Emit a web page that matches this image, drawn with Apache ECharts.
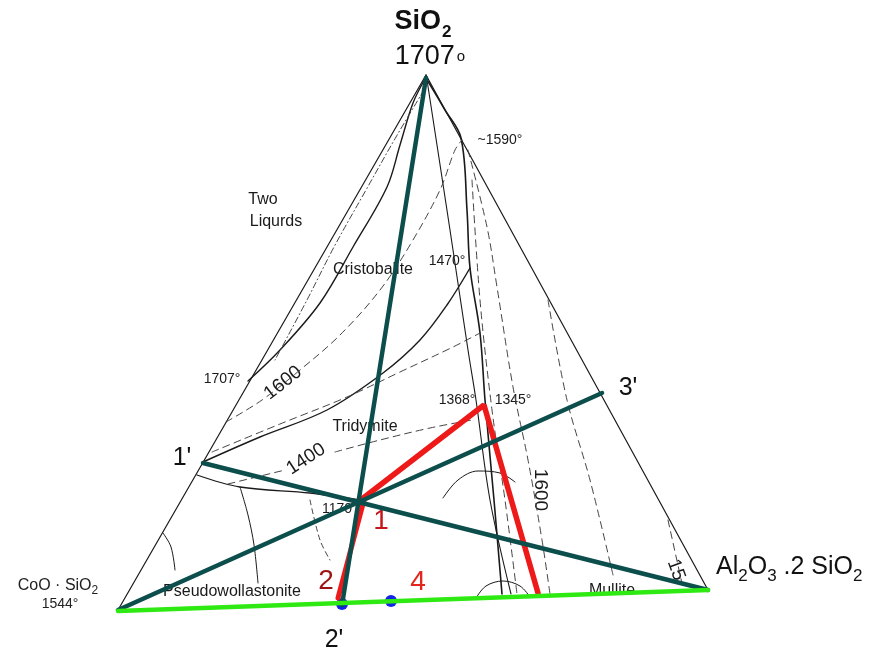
<!DOCTYPE html>
<html>
<head>
<meta charset="utf-8">
<script src="https://cdn.jsdelivr.net/npm/echarts@6/dist/echarts.min.js"></script>
<style>
  html, body { margin: 0; padding: 0; background: #fff; }
  #chart { width: 880px; height: 655px; }
</style>
</head>
<body>
<div id="chart"></div>
<script>
// diagram coordinates (x to the right, y downward)
const edgeLeft = [[426, 75], [118, 610]];
const edgeRight = [[426, 75], [708, 590]];
const baseLine = [[118, 611], [708, 590]];

// solid boundary curves
const curveApex = [[425, 79], [413, 103], [400, 145], [387, 187], [353, 247], [320, 303], [280, 350], [248, 381]];
const curveOnePrime = [[203, 462], [260, 437], [327, 410], [383, 373], [420, 340], [447, 305], [470, 268]];
const curve1590 = [[426, 78], [445, 110], [461, 138], [467, 210], [470, 268], [480, 333], [485, 400], [494, 500], [502, 594]];
const lineApexDown = [[427, 80], [450, 230], [468, 350], [476, 400], [490, 500], [511, 594]];
const curveLow = [[197, 475], [240, 487], [310, 493], [360, 500]];
const curvePseudo = [[240, 487], [248, 515], [254, 545], [258, 583]];
const arcPseudo = [[163, 533], [171, 547], [175, 570]];
const arcMid = [[443, 498], [458, 480], [478, 471], [500, 473], [515, 482]];
const arcBase = [[476, 598], [486, 586], [503, 581], [520, 586], [530, 597]];

// dashed isotherms
const dashTwoLiq = [[424, 90], [396, 137], [366, 190], [334, 247], [307, 300], [275, 360]];
const dash1600 = [[226, 422], [262, 400], [300, 370], [340, 335], [380, 290], [410, 245], [440, 190], [455, 150], [462, 140]];
const dashUpper = [[212, 452], [280, 424], [347, 397], [400, 372], [453, 347], [480, 333]];
const dash1400a = [[228, 484], [285, 470]];
const dash1400b = [[335, 452], [380, 440], [430, 428], [472, 420]];
const dashRight1 = [[468, 150], [487, 227], [497, 287], [513, 387], [528, 460], [542, 540], [550, 594]];
const dashRight2 = [[472, 180], [480, 300], [492, 410], [505, 500], [517, 594]];
const dashRight3 = [[548, 300], [567, 400], [590, 480], [613, 575]];
const dashRight4 = [[668, 520], [683, 588]];
const dashPseudo = [[310, 500], [320, 540], [330, 560]];

// construction lines
const tealApex = [[426, 78], [342, 605]];
const tealOnePrime = [[203, 463], [708, 590]];
const tealThreePrime = [[602, 393], [118, 610]];
const redTriangle = [[362, 499], [484, 405], [538, 593]];
const redDown = [[364, 500], [338, 598]];
const bluePoints = [[342, 604], [391, 601]];

// text on the diagram
const phaseLabels = [
  ['Two', 263, 200], ['Liqurds', 276, 222], ['Cristobalite', 373, 270],
  ['Tridymite', 365, 427], ['Pseudowollastonite', 232, 592], ['Mullite', 612, 591]
];
const tempLabels = [
  ['~1590°', 500, 140], ['1470°', 447, 261], ['1707°', 222, 379],
  ['1368°', 457, 400], ['1345°', 513, 400], ['1170', 337, 509]
];
const isoLabels = [['1600', 283, 383, 38], ['1400', 306, 459, 33], ['1600', 540, 490, -90], ['15', 676, 570, -70]];
const primeLabels = [["1'", 182, 458], ["2'", 334, 640], ["3'", 628, 388]];
const pointLabels = [['1', 381, 521, '#c4161c'], ['2', 326, 581, '#9b1313'], ['4', 418, 582, '#e2261e']];

const chart = echarts.init(document.getElementById('chart'));

const ink = '#1a1a1a';
const font = 'Liberation Sans, Arial, sans-serif';

const line = (data, color, width, type, smooth) => ({
  type: 'line',
  data: data,
  showSymbol: false,
  symbol: 'none',
  smooth: smooth ? 0.35 : false,
  silent: true,
  lineStyle: { color: color, width: width, type: type || 'solid', cap: 'round' }
});

const textSeries = (items, makeLabel) => ({
  type: 'scatter',
  symbolSize: 0,
  silent: true,
  itemStyle: { opacity: 1 },
  data: items.map((d) => ({ value: [d[1], d[2]], label: makeLabel(d) })),
  label: { show: true, position: 'inside' }
});

const series = [
  line(edgeLeft, ink, 1.2),
  line(edgeRight, ink, 1.2),
  line(curveApex, ink, 1.4, 'solid', true),
  line(curveOnePrime, ink, 1.4, 'solid', true),
  line(curve1590, ink, 1.6, 'solid', true),
  line(lineApexDown, ink, 1.1, 'solid', true),
  line(curveLow, ink, 1.3, 'solid', true),
  line(curvePseudo, ink, 1, 'solid', true),
  line(arcPseudo, ink, 1, 'solid', true),
  line(arcMid, ink, 1, 'solid', true),
  line(arcBase, ink, 1, 'solid', true),
  line(dashTwoLiq, '#444', 1, [6, 3, 1, 3], true),
  line(dash1600, '#444', 1, [7, 5], true),
  line(dashUpper, '#444', 1, [7, 5], true),
  line(dash1400a, '#444', 1, [7, 5]),
  line(dash1400b, '#444', 1, [7, 5], true),
  line(dashRight1, '#444', 1, [7, 5], true),
  line(dashRight2, '#444', 1, [7, 5], true),
  line(dashRight3, '#444', 1, [7, 5], true),
  line(dashRight4, '#444', 1, [7, 5]),
  line(dashPseudo, '#444', 1, [5, 4], true),

  textSeries(phaseLabels, (d) => ({ formatter: d[0], fontSize: 16, color: ink, fontFamily: font })),
  textSeries(tempLabels, (d) => ({ formatter: d[0], fontSize: 14, color: ink, fontFamily: font })),
  textSeries(isoLabels, (d) => ({ formatter: d[0], fontSize: 19, color: ink, fontFamily: font, rotate: d[3] })),

  line(redTriangle, '#ee1a1a', 5.5),
  line(redDown, '#ee1a1a', 5),
  line(tealApex, '#0c4e4c', 4.5),
  line(tealOnePrime, '#0c4e4c', 4.5),
  line(tealThreePrime, '#0c4e4c', 4.5),
  line(baseLine, '#2eea12', 4.5),
  {
    type: 'scatter',
    data: bluePoints,
    symbolSize: 12,
    silent: true,
    itemStyle: { color: '#1424e6', opacity: 1 }
  },

  textSeries(primeLabels, (d) => ({ formatter: d[0], fontSize: 25, color: '#111', fontFamily: font })),
  textSeries(pointLabels, (d) => ({ formatter: d[0], fontSize: 28, color: d[3], fontFamily: font })),

  // compound names and the SiO2 melting point
  {
    type: 'scatter',
    symbolSize: 0,
    silent: true,
    itemStyle: { opacity: 1 },
    label: { show: true, fontFamily: font, color: '#111' },
    data: [
      {
        value: [423, 22],
        label: {
          position: 'inside',
          formatter: '{m|SiO}{s|2}',
          rich: {
            m: { fontSize: 27, fontWeight: 'bold', fontFamily: font, color: '#111', verticalAlign: 'bottom' },
            s: { fontSize: 17, fontWeight: 'bold', fontFamily: font, color: '#111', verticalAlign: 'bottom', padding: [0, 0, -5, 1] }
          }
        }
      },
      {
        value: [430, 57],
        label: {
          position: 'inside',
          formatter: '{m|1707}{o|o}',
          rich: {
            m: { fontSize: 27, fontFamily: font, color: '#111' },
            o: { fontSize: 15, fontFamily: font, color: '#111', padding: [0, 0, 0, 2] }
          }
        }
      },
      {
        value: [716, 567],
        label: {
          position: 'right',
          distance: 0,
          formatter: '{m|Al}{s|2}{m|O}{s|3}{m| .2 SiO}{s|2}',
          rich: {
            m: { fontSize: 25, fontFamily: font, color: '#111', verticalAlign: 'bottom' },
            s: { fontSize: 17, fontFamily: font, color: '#111', verticalAlign: 'bottom', padding: [0, 0, -5, 0] }
          }
        }
      },
      {
        value: [58, 586],
        label: {
          position: 'inside',
          formatter: '{m|CoO · SiO}{s|2}',
          rich: {
            m: { fontSize: 16, fontFamily: font, color: '#222', verticalAlign: 'bottom' },
            s: { fontSize: 12, fontFamily: font, color: '#222', verticalAlign: 'bottom', padding: [0, 0, -3, 0] }
          }
        }
      },
      {
        value: [60, 604],
        label: { position: 'inside', formatter: '1544°', fontSize: 14, color: '#222' }
      }
    ]
  }
];

const options = {
  backgroundColor: '#fff',
  animation: false,
  grid: { left: 0, right: 0, top: 0, bottom: 0 },
  xAxis: { type: 'value', min: 0, max: 880, show: false },
  yAxis: { type: 'value', min: 0, max: 655, inverse: true, show: false },
  series: series
};

chart.setOption(options);
</script>
</body>
</html>
